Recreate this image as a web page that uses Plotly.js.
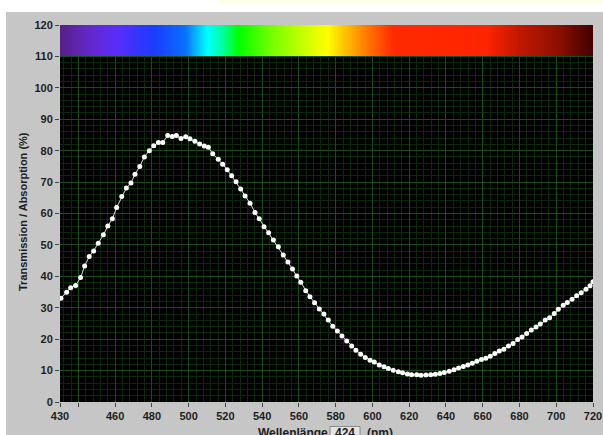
<!DOCTYPE html>
<html>
<head>
<meta charset="utf-8">
<script src="https://cdn.plot.ly/plotly-3.0.1.min.js"></script>
<style>
  html, body { margin: 0; padding: 0; background: #ffffff; width: 603px; height: 435px; overflow: hidden; }
  #strip { position: absolute; left: 220px; top: 0; width: 383px; height: 4px; background: #fcfce8; }
  #chart { position: absolute; left: 6px; top: 12px; width: 597px; height: 423px; }
</style>
</head>
<body>
<div id="strip"></div>
<div id="chart"></div>
<script>
// ---- data ----
const wavelength = [
  430.5, 433.6, 435.8, 438.5, 441.2, 443.4, 445.9, 448.3, 450.8, 453.6,
  456.0, 458.5, 460.8, 463.6, 466.1, 468.6, 470.8, 473.4, 475.9, 478.6,
  481.0, 483.5, 485.9, 488.6, 491.1, 493.3, 495.8, 498.4, 500.7, 503.4,
  506.0, 508.5, 510.7, 513.1, 516.1, 518.5, 521.0, 523.4, 525.8, 528.3,
  530.7, 533.4, 536.1, 538.4, 541.0, 543.5, 546.1, 548.8, 551.5, 554.0,
  556.5, 558.8, 561.0, 563.7, 566.0, 568.5, 571.1, 573.6, 576.0, 578.4,
  580.9, 583.4, 586.0, 588.7, 591.0, 593.6, 596.1, 598.7, 601.0, 603.7,
  606.3, 608.6, 611.3, 614.1, 616.4, 619.0, 621.3, 624.1, 626.4, 629.1,
  631.7, 634.2, 636.7, 639.1, 641.8, 644.4, 646.9, 649.4, 651.9, 654.3,
  656.8, 659.3, 661.7, 664.1, 666.6, 669.0, 671.5, 674.0, 676.5, 679.0,
  681.4, 683.9, 686.4, 689.0, 691.3, 694.0, 696.4, 698.9, 701.1, 703.8,
  706.0, 708.6, 711.1, 713.6, 716.2, 718.4, 720.0
];
const transmission = [
  33.0, 34.9, 36.4, 37.1, 39.6, 43.3, 46.3, 48.1, 50.5, 53.2,
  56.0, 58.3, 61.9, 65.4, 68.1, 69.7, 72.5, 75.0, 78.0, 80.0,
  81.6, 82.6, 82.6, 84.8, 84.5, 84.8, 83.9, 84.4, 83.8, 83.0,
  82.1, 81.5, 81.1, 79.0, 77.3, 75.7, 73.9, 72.0, 70.1, 67.8,
  65.6, 63.3, 60.3, 58.3, 55.8, 53.9, 51.6, 49.4, 46.8, 44.6,
  42.3, 40.1, 38.1, 35.4, 33.5, 31.6, 29.6, 28.0, 26.1, 24.1,
  22.6, 21.0, 19.4, 17.8, 16.5, 15.2, 14.2, 13.3, 12.7, 11.8,
  11.2, 10.7, 10.1, 9.6, 9.3, 8.9, 8.7, 8.7, 8.5, 8.6,
  8.7, 8.8, 9.1, 9.4, 9.8, 10.3, 10.8, 11.3, 11.8, 12.3,
  13.0, 13.5, 13.9, 14.6, 15.4, 16.2, 16.8, 17.8, 18.6, 19.9,
  20.7, 21.8, 22.9, 23.9, 24.8, 26.1, 26.8, 28.2, 29.5, 30.8,
  31.7, 32.7, 33.8, 34.8, 35.9, 37.0, 38.3
];
const xTickVals = [430, 440, 460, 480, 500, 520, 540, 560, 580, 600, 620, 640, 660, 680, 700, 720];
const xTickText = ['430', '', '460', '480', '500', '520', '540', '560', '580', '600', '620', '640', '660', '680', '700', '720'];
const yTickVals = [0, 10, 20, 30, 40, 50, 60, 70, 80, 90, 100, 110, 120];
const spectrumNm = [430, 445, 460, 481, 498, 510, 518, 527, 544, 560, 575, 585, 598, 611, 661, 680, 700, 720];
const spectrumBand = [110, 120];
const yTitle = 'Transmission / Absorption (%)';
const xTitle = 'Wellenlänge';
const xTitleValue = '424';
const xTitleUnit = '(nm)';

// ---- styling ----
const spectrumColors = ['#561f86', '#6428c8', '#5b2cf8', '#1a3cff', '#0a70ff', '#00ffff', '#00ffa0', '#00ff00',
  '#70ff00', '#bfff00', '#ffff00', '#ffc000', '#ff7000', '#ff2a00', '#ff2400', '#c01800', '#901000', '#400000'];
const n = spectrumNm.length;
const colorscale = spectrumColors.map((c, i) => [i / (n - 1), c]);
const zRow = spectrumNm.map((_, i) => i);
const bandMid = (spectrumBand[0] + spectrumBand[1]) / 2;

const tickFont = { family: 'Liberation Sans, Arial, sans-serif', size: 11, color: '#1e1e1e', weight: 'bold' };
const titleFont = { family: 'Liberation Sans, Arial, sans-serif', size: 12, color: '#1e1e1e', weight: 'bold' };

const traces = [
  {
    type: 'heatmap',
    x: spectrumNm,
    y: [(spectrumBand[0] + bandMid) / 2, (bandMid + spectrumBand[1]) / 2],
    z: [zRow, zRow],
    zmin: 0, zmax: n - 1,
    colorscale: colorscale,
    zsmooth: 'best',
    showscale: false,
    hoverinfo: 'skip'
  },
  {
    type: 'scatter',
    mode: 'lines+markers',
    x: wavelength,
    y: transmission,
    line: { color: '#dcdcdc', width: 1 },
    marker: { color: '#ffffff', size: 5 },
    hoverinfo: 'x+y'
  }
];

const layout = {
  width: 597, height: 423,
  margin: { l: 54, r: 10, t: 13, b: 33 },
  paper_bgcolor: '#c6c6c6',
  plot_bgcolor: '#000000',
  showlegend: false,
  xaxis: {
    range: [430, 720],
    tickmode: 'array', tickvals: xTickVals, ticktext: xTickText,
    ticks: 'outside', ticklen: 4, tickcolor: '#444', tickwidth: 1,
    tickfont: tickFont,
    showgrid: true, gridcolor: '#1a4c1a', gridwidth: 1,
    minor: { tickmode: 'linear', tick0: 440, dtick: 4, showgrid: true, gridcolor: '#0b280b', gridwidth: 1, ticks: '' },
    zeroline: false, showline: false, fixedrange: true
  },
  yaxis: {
    range: [0, 120],
    tickmode: 'array', tickvals: yTickVals,
    ticks: 'outside', ticklen: 4, tickcolor: '#444', tickwidth: 1,
    tickfont: tickFont,
    showgrid: true, gridcolor: '#1a4c1a', gridwidth: 1,
    minor: { tickmode: 'linear', tick0: 0, dtick: 2, showgrid: true, gridcolor: '#0b280b', gridwidth: 1, ticks: '' },
    zeroline: false, showline: false, fixedrange: true
  },
  shapes: [
    { type: 'rect', xref: 'paper', yref: 'paper', ysizemode: 'pixel', yanchor: 0,
      x0: 0.5066, x1: 0.5629, y0: -24.5, y1: -45,
      line: { color: '#8a8a8a', width: 1 }, fillcolor: '#e4e4e4' }
  ],
  annotations: [
    { text: yTitle, xref: 'paper', yref: 'paper', x: 0, y: 0.504, xshift: -37,
      textangle: -90, showarrow: false, xanchor: 'center', yanchor: 'middle',
      font: { family: 'Liberation Sans, Arial, sans-serif', size: 11, color: '#1e1e1e', weight: 'bold' } },
    { text: xTitle, xref: 'paper', yref: 'paper', x: 0.437, y: 0, yshift: -31,
      showarrow: false, xanchor: 'center', yanchor: 'middle', font: titleFont },
    { text: xTitleValue, xref: 'paper', yref: 'paper', x: 0.535, y: 0, yshift: -31,
      showarrow: false, xanchor: 'center', yanchor: 'middle', font: titleFont },
    { text: xTitleUnit, xref: 'paper', yref: 'paper', x: 0.600, y: 0, yshift: -31,
      showarrow: false, xanchor: 'center', yanchor: 'middle', font: titleFont }
  ]
};

Plotly.newPlot('chart', traces, layout, { displayModeBar: false, staticPlot: true });
</script>
</body>
</html>
